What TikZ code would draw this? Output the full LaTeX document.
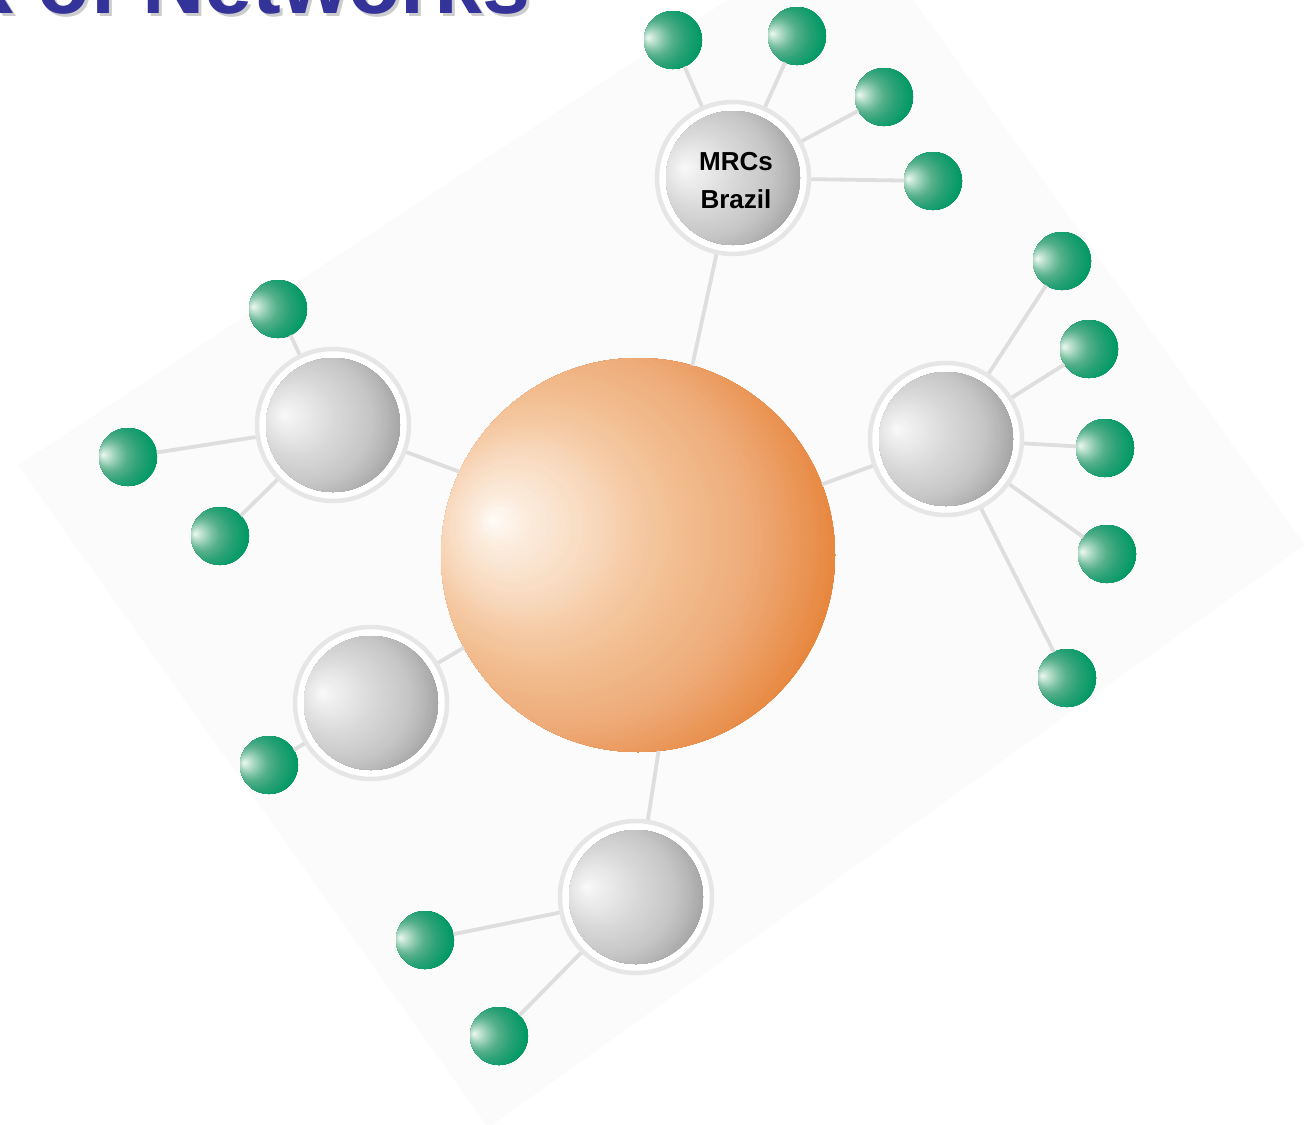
\documentclass[tikz,border=0pt]{standalone}
\usepackage{fontspec}
\setmainfont{Liberation Sans}
\definecolor{bgpane}{HTML}{FBFBFB}
\definecolor{linkgrey}{HTML}{DEDEDE}
\definecolor{ringgrey}{HTML}{E6E6E6}
\definecolor{titleblue}{HTML}{333399}
% orange sphere stops
\definecolor{orW}{HTML}{FFFCF8}
\definecolor{orG}{HTML}{FCEEE0}
\definecolor{orL}{HTML}{F8D9BE}
\definecolor{orM}{HTML}{F5C9A3}
\definecolor{orN}{HTML}{F1BA8B}
\definecolor{orT}{HTML}{EEAC7A}
\definecolor{orU}{HTML}{EB9A5E}
\definecolor{orR}{HTML}{E7873E}
% grey sphere stops
\definecolor{grW}{HTML}{FAFAFA}
\definecolor{grG}{HTML}{F2F2F2}
\definecolor{grL}{HTML}{E4E4E4}
\definecolor{grM}{HTML}{DADADA}
\definecolor{grN}{HTML}{D0D0D0}
\definecolor{grT}{HTML}{C6C6C6}
\definecolor{grU}{HTML}{B8B8B8}
\definecolor{grR}{HTML}{A6A6A6}
% green sphere stops
\definecolor{gnW}{HTML}{F2FAF6}
\definecolor{gnG}{HTML}{D4EDE1}
\definecolor{gnL}{HTML}{A8D7C1}
\definecolor{gnK}{HTML}{78C1A2}
\definecolor{gnM}{HTML}{55B08B}
\definecolor{gnT}{HTML}{2BA277}
\definecolor{gnR}{HTML}{009964}
% sphere drawn as a stack of circles shrinking toward the highlight
% #1 radius, #2,#3 highlight offset (px, y down), #4 list tA/tB/cA/cB
\newcommand\ballshade[4]{%
  \begin{scope}[shift={(path picture bounding box.center)}]
  \foreach \tA/\tB/\cA/\cB in {#4} {
    \foreach \jj in {0,...,11} {
      \pgfmathsetmacro\tpar{\tA+(\tB-\tA)*\jj/12}
      \pgfmathtruncatemacro\pcmix{round(100*\jj/12)}
      \fill[\cB!\pcmix!\cA] ({#2*(1-\tpar)},{#3*(1-\tpar)}) circle ({2*#1*\tpar});
    }
  }
  \end{scope}}
\tikzset{
  core/.style={circle, minimum size=394*0.01cm, inner sep=0pt, outer sep=0pt,
    path picture={\ballshade{197}{-146}{-35}{1/0.64/orR/orR, 0.64/0.56/orR/orU, 0.56/0.48/orU/orT, 0.48/0.38/orT/orN, 0.38/0.275/orN/orM, 0.275/0.19/orM/orL, 0.19/0.06/orL/orG, 0.06/0/orG/orW}}},
  ring/.style={circle, minimum size=152*0.01cm, inner sep=0pt, fill=white, draw=ringgrey, line width=4.5*0.2845pt},
  hubball/.style={circle, minimum size=134*0.01cm, inner sep=0pt, outer sep=0pt,
    path picture={\ballshade{67}{-50}{-10}{1/0.64/grR/grR, 0.64/0.56/grR/grU, 0.56/0.48/grU/grT, 0.48/0.38/grT/grN, 0.38/0.275/grN/grM, 0.275/0.19/grM/grL, 0.19/0.06/grL/grG, 0.06/0/grG/grW}}},
  hubtext/.style={inner sep=0pt, align=center, font=\bfseries\fontsize{7.4pt}{10.8pt}\selectfont},
  leaf/.style={circle, minimum size=58*0.01cm, inner sep=0pt, outer sep=0pt,
    path picture={\ballshade{29}{-25}{-2}{1/0.65/gnR/gnR, 0.65/0.45/gnR/gnT, 0.45/0.30/gnT/gnM, 0.30/0.22/gnM/gnK, 0.22/0.13/gnK/gnL, 0.13/0.05/gnL/gnG, 0.05/0/gnG/gnW}}},
  link/.style={draw=linkgrey, line width=3.8*0.2845pt},
  titletext/.style={anchor=base east, inner sep=0pt, font=\bfseries\fontsize{24.5pt}{26pt}\selectfont},
}
\begin{document}
\begin{tikzpicture}[x=0.01cm,y=-0.01cm]
\useasboundingbox (0,0) rectangle (1309,1124);
% background pane
\fill[bgpane] (854,-83) -- (1305,545) -- (488,1128) -- (18,465) -- cycle;
% title (cut off at top of picture)
\begin{scope}
\clip (0,0) rectangle (1309,1124);
\node[titletext, text=gray, opacity=0.4] (titleshadow) at (534,17) {k of Networks};
\node[titletext, text=titleblue] (title) at (531,14) {k of Networks};
\end{scope}
% nodes
\node[core] (C) at (638,555) {};
\node[ring] (H1) at (733,178) {};
\node[ring] (H2) at (946,439) {};
\node[ring] (H3) at (333,425) {};
\node[ring] (H4) at (371,703) {};
\node[ring] (H5) at (636,897) {};
\node[leaf] (L11) at (673,40) {};
\node[leaf] (L12) at (797,36) {};
\node[leaf] (L13) at (884,97) {};
\node[leaf] (L14) at (933,181) {};
\node[leaf] (L21) at (1062,261) {};
\node[leaf] (L22) at (1089,349) {};
\node[leaf] (L23) at (1105,448) {};
\node[leaf] (L24) at (1107,554) {};
\node[leaf] (L25) at (1067,678) {};
\node[leaf] (L31) at (278,309) {};
\node[leaf] (L32) at (128,457) {};
\node[leaf] (L33) at (220,536) {};
\node[leaf] (L41) at (269,765) {};
\node[leaf] (L51) at (425,940) {};
\node[leaf] (L52) at (499,1036) {};
% connectors
\path[link] (H1) -- (C.74);
\path[link] (H2) -- (C.21);
\path[link] (H3) -- (C.155);
\path[link] (H4) -- (C.208);
\path[link] (H5) -- (C.-84);
\foreach \l in {L11,L12,L13,L14} \path[link] (H1) -- (\l);
\foreach \l in {L21,L22,L23,L24,L25} \path[link] (H2) -- (\l);
\foreach \l in {L31,L32,L33} \path[link] (H3) -- (\l);
\path[link] (H4) -- (L41);
\foreach \l in {L51,L52} \path[link] (H5) -- (\l);
% grey hub spheres
\node[hubball] (B1) at (H1.center) {};
\node[hubball] (B2) at (H2.center) {};
\node[hubball] (B3) at (H3.center) {};
\node[hubball] (B4) at (H4.center) {};
\node[hubball] (B5) at (H5.center) {};
\node[hubtext] (T1) at (736,181) {MRCs\\Brazil};
\end{tikzpicture}
\end{document}
